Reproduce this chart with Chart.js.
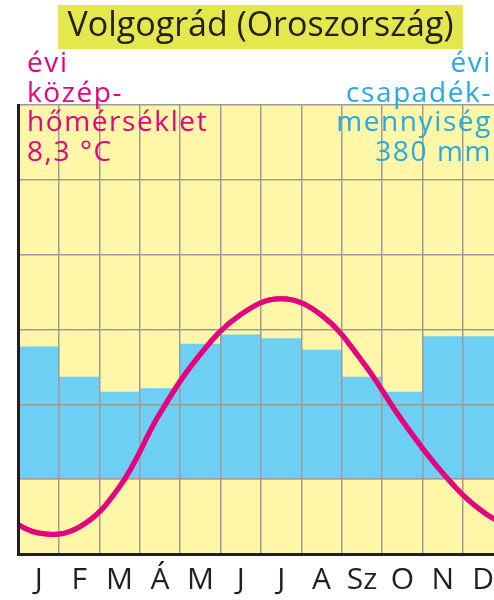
<!DOCTYPE html>
<html lang="hu">
<head>
<meta charset="utf-8">
<title>Volgográd klímadiagram</title>
<script src="https://cdn.jsdelivr.net/npm/chart.js@4.4.1/dist/chart.umd.min.js"></script>
<style>
  html, body { margin: 0; padding: 0; background: #fff; overflow: hidden; }
  #wrap { position: relative; width: 494px; height: 600px; overflow: hidden; }
  #chart { position: absolute; left: 0; top: 0; }
  .title {
    position: absolute; left: 58px; top: 5px; width: 405px; height: 37px; padding-bottom: 7px;
    background: #e5e84d; color: #231f20; text-align: center;
    font-family: 'Open Sans', sans-serif; font-size: 34px; line-height: 37px;
  }
  .note {
    position: absolute; top: 47px; z-index: 2;
    font-family: 'Open Sans', sans-serif; font-size: 28px; line-height: 29.5px; letter-spacing: 1.6px;
  }
  .temp { left: 27px; color: #e6007e; }
  .prec { right: 2px; color: #27aae1; text-align: right; }
</style>
</head>
<body>
<div id="wrap">
  <canvas id="chart" width="520" height="600"></canvas>
  <div class="title">Volgográd (Oroszország)</div>
  <div class="note temp">évi<br>közép-<br>hőmérséklet<br>8,3 °C</div>
  <div class="note prec">évi<br>csapadék-<br>mennyiség<br>380 mm</div>
</div>
<script>
// havi adatok
const months = ['J', 'F', 'M', 'Á', 'M', 'J', 'J', 'A', 'Sz', 'O', 'N', 'D'];
const precipitation = [35.4, 27.3, 23.3, 24.2, 36.1, 38.6, 37.6, 34.5, 27.3, 23.3, 38.1, 38.1]; // mm
const temperature = [-7.2, -6.4, -1.0, 8.8, 16.7, 22.0, 24.1, 21.9, 15.8, 7.8, 0.8, -4.4]; // °C

// skálák: 10 °C = 20 mm, a 0 °C és a 0 mm egy vonalon
const tempRange = [-10, 50];
const tempStep = 10;
const precipRange = [-20, 100];

const colors = {
  plot: '#fff6a8',
  bar: '#6dcff3',
  curve: '#e6007e',
  grid: '#9b9b9b',
  axis: '#231f20',
};

// a görbe a diagram széléig fut: december elé, január mögé
const tempPoints = [
  { x: -0.5, y: temperature[11] },
  ...temperature.map((t, i) => ({ x: i + 0.5, y: t })),
  { x: 12.5, y: temperature[0] },
];

const plotBg = {
  id: 'plotBg',
  beforeDraw(chart) {
    const { ctx, chartArea: a } = chart;
    ctx.save();
    ctx.fillStyle = colors.plot;
    ctx.fillRect(a.left, a.top, a.right - a.left, a.bottom - a.top);
    ctx.restore();
  },
};

// a rácsvonalak az oszlopok fölött vannak, a görbe mindennek a tetején
const curveOnTop = {
  id: 'curveOnTop',
  afterDraw(chart) {
    const { ctx, chartArea: a } = chart;
    ctx.save();
    ctx.beginPath();
    ctx.rect(a.left + 1.5, a.top, a.right - a.left, a.bottom - a.top - 1.5);
    ctx.clip();
    chart.getDatasetMeta(1).controller.draw();
    ctx.restore();
  },
};

new Chart(document.getElementById('chart'), {
  type: 'bar',
  data: {
    labels: months,
    datasets: [
      {
        label: 'csapadék',
        data: precipitation,
        backgroundColor: colors.bar,
        borderWidth: 0,
        barPercentage: 1,
        categoryPercentage: 1,
        grouped: false,
        xAxisID: 'x',
        yAxisID: 'yP',
        order: 1,
      },
      {
        type: 'line',
        label: 'hőmérséklet',
        data: tempPoints,
        borderColor: colors.curve,
        borderWidth: 5,
        pointRadius: 0,
        tension: 0.4,
        fill: false,
        xAxisID: 'xl',
        yAxisID: 'y',
        order: 0,
      },
    ],
  },
  options: {
    responsive: false,
    devicePixelRatio: 1,
    animation: false,
    events: [],
    layout: { padding: { left: 18.6, top: 105, right: 16.6, bottom: 0 } },
    plugins: { legend: { display: false }, tooltip: { enabled: false } },
    scales: {
      x: {
        type: 'category',
        offset: true,
        grid: { z: 1, offset: true, color: colors.grid, lineWidth: 1.5, drawTicks: false },
        border: { z: 2, color: colors.axis, width: 3 },
        ticks: {
          color: colors.axis,
          font: { family: 'Open Sans', size: 30 },
          padding: 8,
          autoSkip: false,
          maxRotation: 0,
        },
        afterFit(scale) { scale.height = 46; },
      },
      xl: {
        type: 'linear',
        min: 0,
        max: 12,
        offset: false,
        bounds: 'ticks',
        grid: { offset: false },
        display: false,
      },
      y: {
        position: 'left',
        min: tempRange[0],
        max: tempRange[1],
        ticks: { stepSize: tempStep, display: false },
        grid: { z: 1, color: colors.grid, lineWidth: 1.5, drawTicks: false },
        border: { z: 2, color: colors.axis, width: 3 },
      },
      yP: { min: precipRange[0], max: precipRange[1], display: false },
    },
  },
  plugins: [plotBg, curveOnTop],
});
</script>
</body>
</html>
